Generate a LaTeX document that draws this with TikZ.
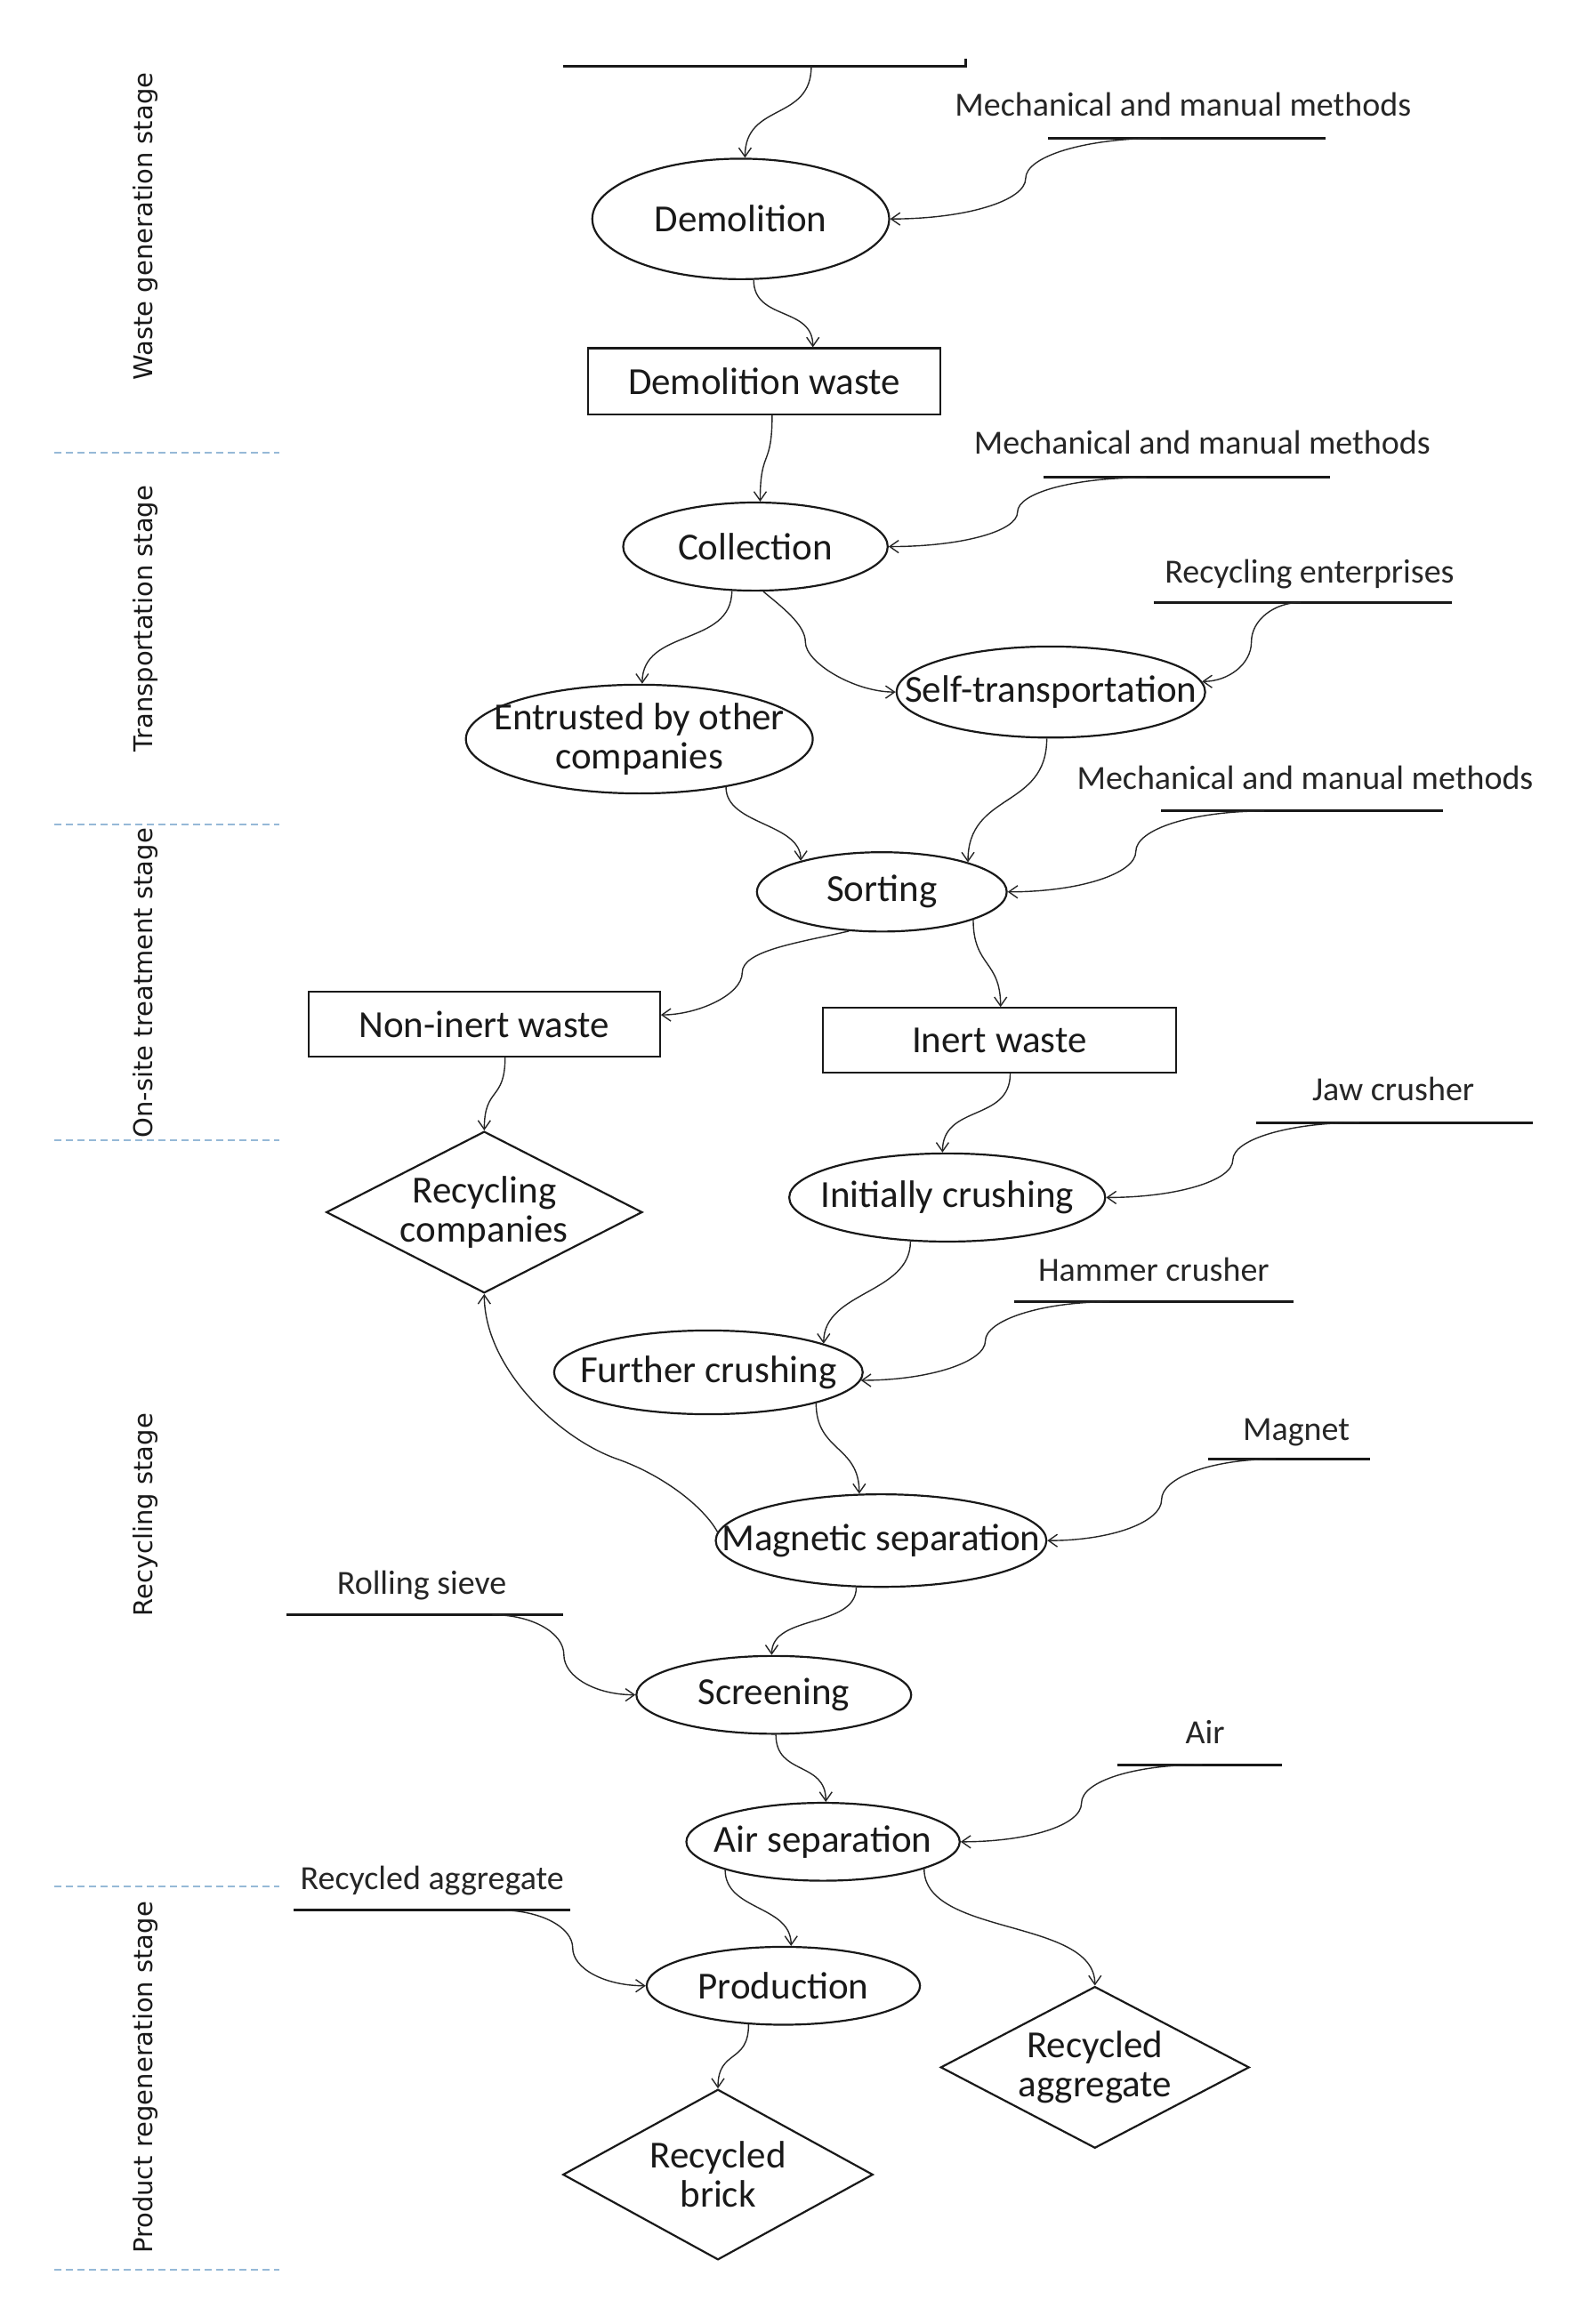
\documentclass[tikz,border=0pt]{standalone}
\usepackage{fontspec}
\setmainfont{Carlito}
\newfontfamily\stagefont{DejaVu Sans}
\usetikzlibrary{shapes.geometric,arrows.meta,calc}
\newcommand\mainlab{\fontsize{43}{44}\selectfont}
\newcommand\smalllab{\fontsize{38}{40}\selectfont}
\newcommand\stagelab{\stagefont\fontsize{29}{30}\selectfont}
\newcommand\incurve[4]{\draw[conn] (#1) .. controls +(#3,0) and +(0,#4) .. ($(#1)!0.5!(#2)$) .. controls +(0,{-1*(#4)}) and +({-1*(#3)},0) .. (#2);}
\begin{document}
\begin{tikzpicture}[x=1.652pt,y=1.652pt,
  ell/.style 2 args={draw=black!90, ellipse, line width=2.2pt, inner sep=0pt, minimum width={#1*1.652pt}, minimum height={#2*1.652pt}},
  boxnode/.style 2 args={draw=black!90, rectangle, line width=2.2pt, inner sep=0pt, minimum width={#1*1.652pt}, minimum height={#2*1.652pt}, font=\mainlab, text=black!90},
  dia/.style 2 args={draw=black!90, diamond, line width=2.2pt, inner sep=0pt, minimum width={#1*1.652pt}, minimum height={#2*1.652pt}},
  lab/.style={font=\mainlab, align=center, inner sep=0pt, text=black!90},
  inlab/.style={font=\smalllab, anchor=base, inner sep=0pt, text=black!85},
  inline/.style={line width=3pt, draw=black!90},
  stage/.style={font=\stagelab, rotate=90, inner sep=0pt, text=black!90},
  sepline/.style={draw={rgb,255:red,150;green,185;blue,215}, line width=2pt, dash pattern=on 8pt off 5pt},
  conn/.style={draw=black!85, line width=1.4pt, -{Straight Barb[length=10pt,width=14pt]}},
  vs/.style={to path={.. controls +(0,-#1) and +(0,#1) .. (\tikztotarget) \tikztonodes}}
]
\useasboundingbox (0,0) rectangle (1080,-1581.7);

% stage labels
\node[stage] (st1) at (99,-154) {Waste generation stage};
\node[stage] (st2) at (99,-421) {Transportation stage};
\node[stage] (st3) at (99,-669) {On-site treatment stage};
\node[stage] (st4) at (99,-1031) {Recycling stage};
\node[stage] (st5) at (99,-1414) {Product regeneration stage};
\coordinate (d1a) at (37,-308); \coordinate (d1b) at (190,-308);
\coordinate (d2a) at (37,-561); \coordinate (d2b) at (190,-561);
\coordinate (d3a) at (37,-776); \coordinate (d3b) at (190,-776);
\coordinate (d4a) at (37,-1284); \coordinate (d4b) at (190,-1284);
\coordinate (d5a) at (37,-1545); \coordinate (d5b) at (190,-1545);
\draw[sepline] (d1a) -- (d1b);
\draw[sepline] (d2a) -- (d2b);
\draw[sepline] (d3a) -- (d3b);
\draw[sepline] (d4a) -- (d4b);
\draw[sepline] (d5a) -- (d5b);

% nodes
\node[ell={202}{82}, label={[lab]center:Demolition}] (dem) at (504,-149) {};
\node[boxnode={240}{45}] (dw) at (520,-259.5) {Demolition waste};
\node[ell={180}{60}, label={[lab]center:Collection}] (col) at (514,-372) {};
\node[ell={236}{74}, label={[lab]center:{Entrusted by other\\companies}}] (ent) at (435,-503) {};
\node[ell={210}{62}, label={[lab]center:Self-transportation}] (self) at (715,-471) {};
\node[ell={170}{54}, label={[lab]center:Sorting}] (sort) at (600,-607) {};
\node[boxnode={239}{44}] (non) at (329.5,-697) {Non-inert waste};
\node[boxnode={240}{44}] (inert) at (680,-708) {Inert waste};
\node[dia={215}{110}, label={[lab]center:{Recycling\\companies}}] (rc) at (329.5,-825) {};
\node[ell={215}{60}, label={[lab]center:Initially crushing}] (ic) at (644.5,-815) {};
\node[ell={210}{57}, label={[lab]center:Further crushing}] (fc) at (482,-934) {};
\node[ell={225}{63}, label={[lab]center:Magnetic separation}] (ms) at (599.5,-1048.5) {};
\node[ell={187}{53}, label={[lab]center:Screening}] (scr) at (526.5,-1153.5) {};
\node[ell={186}{53}, label={[lab]center:Air separation}] (air) at (560,-1253.5) {};
\node[ell={186}{53}, label={[lab]center:Production}] (prod) at (533,-1351.5) {};
\node[dia={210}{110}, label={[lab]center:{Recycled\\aggregate}}] (ra) at (745,-1407) {};
\node[dia={211}{116}, label={[lab]center:{Recycled\\brick}}] (rb) at (488.5,-1480) {};

% input labels and lines
\coordinate (t0a) at (383,-45); \coordinate (t0b) at (657,-45); \coordinate (t0c) at (657,-40);
\draw[inline] (t0a) -- (t0b) -- (t0c);
\coordinate (s0) at (552,-45);

\node[inlab] (l1) at (805,-79) {Mechanical and manual methods};
\coordinate (a1) at (713,-94); \coordinate (b1) at (902,-94); \coordinate (s1) at (790,-94);
\draw[inline] (a1) -- (b1);

\node[inlab] (l2) at (818,-309) {Mechanical and manual methods};
\coordinate (a2) at (710,-325); \coordinate (b2) at (905,-325); \coordinate (s2) at (780,-325);
\draw[inline] (a2) -- (b2);

\node[inlab] (l3) at (891,-397) {Recycling enterprises};
\coordinate (a3) at (785,-410); \coordinate (b3) at (988,-410); \coordinate (s3) at (885,-410);
\draw[inline] (a3) -- (b3);

\node[inlab] (l4) at (888,-537) {Mechanical and manual methods};
\coordinate (a4) at (790,-552); \coordinate (b4) at (982,-552); \coordinate (s4) at (860,-552);
\draw[inline] (a4) -- (b4);

\node[inlab] (l5) at (948,-749) {Jaw crusher};
\coordinate (a5) at (855,-764); \coordinate (b5) at (1043,-764); \coordinate (s5) at (925,-764);
\draw[inline] (a5) -- (b5);

\node[inlab] (l6) at (785,-872) {Hammer crusher};
\coordinate (a6) at (690,-886); \coordinate (b6) at (880,-886); \coordinate (s6) at (755,-886);
\draw[inline] (a6) -- (b6);

\node[inlab] (l7) at (882,-980) {Magnet};
\coordinate (a7) at (822,-993); \coordinate (b7) at (932,-993); \coordinate (s7) at (868,-993);
\draw[inline] (a7) -- (b7);

\node[inlab] (l8) at (287,-1085) {Rolling sieve};
\coordinate (a8) at (195,-1099); \coordinate (b8) at (383,-1099); \coordinate (s8) at (335,-1099);
\draw[inline] (a8) -- (b8);

\node[inlab] (l9) at (820,-1187) {Air};
\coordinate (a9) at (760,-1201); \coordinate (b9) at (872,-1201); \coordinate (s9) at (818,-1201);
\draw[inline] (a9) -- (b9);

\node[inlab] (l10) at (294,-1286) {Recycled aggregate};
\coordinate (a10) at (200,-1300); \coordinate (b10) at (388,-1300); \coordinate (s10) at (340,-1300);
\draw[inline] (a10) -- (b10);

% input curves
\incurve{s1}{dem.east}{-52}{15}
\incurve{s2}{col.east}{-50}{13}
\incurve{s3}{self.4}{-18}{15}
\incurve{s4}{sort.east}{-49}{15}
\incurve{s5}{ic.east}{-48}{14}
\incurve{s6}{fc.-3}{-47}{14}
\incurve{s7}{ms.east}{-44}{15}
\incurve{s8}{scr.west}{27}{15}
\incurve{s9}{air.east}{-46}{15}
\incurve{s10}{prod.west}{28}{14}

% node-to-node connectors
\draw[conn] (s0) to[vs=38] (dem.86);
\draw[conn] (dem.-78) to[vs=28] (dw.35);
\draw[conn] (dw.-77) to[vs=36] (col.84);
\draw[conn] (col.-118) to[vs=38] (ent.87);
\coordinate (m5) at (548,-437);
\draw[conn] (col.-80) .. controls +(12,-10) and +(0,12) .. (m5) .. controls +(0,-14) and +(-28,0) .. (self.west);
\draw[conn] (ent.-29) to[vs=26] (sort.159);
\draw[conn] (self.-95) to[vs=48] (sort.19);
\coordinate (m8) at (505,-662);
\draw[conn] (sort.-130) .. controls +(-35,-8) and +(0,15) .. (m8) .. controls +(0,-15) and +(25,0) .. (non.3);
\draw[conn] (sort.-17) to[vs=32] (inert.88);
\draw[conn] (non.-58) to[vs=30] (rc.north);
\draw[conn] (inert.-72) to[vs=33] (ic.96);
\draw[conn] (ic.-130) to[vs=36] (fc.14);
\draw[conn] (fc.-16) to[vs=33] (ms.115);
\coordinate (m14) at (420,-993);
\draw[conn] (ms.177) .. controls +(-10,18) and +(30,-10.5) .. (m14) .. controls +(-40,14) and +(0,-50) .. (rc.south);
\draw[conn] (ms.-118) to[vs=28] (scr.93);
\draw[conn] (scr.-87) to[vs=28] (air.86);
\draw[conn] (air.-164) to[vs=28] (prod.79);
\draw[conn] (air.-15) to[vs=46] (ra.north);
\draw[conn] (prod.-132) to[vs=27] (rb.north);
\end{tikzpicture}
\end{document}
